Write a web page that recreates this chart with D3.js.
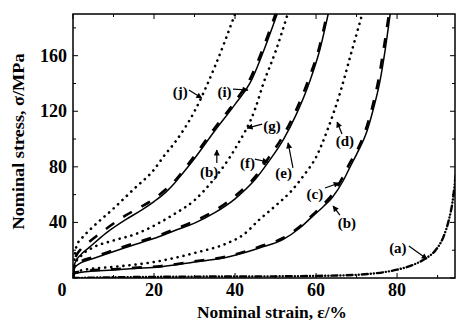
<!DOCTYPE html>
<html><head><meta charset="utf-8">
<script src="https://cdn.jsdelivr.net/npm/d3@7"></script>
<style>html,body{margin:0;padding:0;background:#fff;}svg{display:block;}</style>
</head><body>
<svg id="c" width="456" height="321"></svg>
<script>
// ---- data (strain %, stress MPa) ----
const curveA = [[0,0],[10,0.5],[30,1],[50,1.2],[60,1.5],[70,2.3],[75,3.5],[80,6],[84,9.5],[87,14],[89.5,20],[91.5,30],[92.8,42],[93.7,55],[94.5,75]];
const curveB = [[0,0],[0.3,3],[3,4.5],[10,5.8],[15,6.8],[21.5,8],[30,11.5],[38,15],[46,21.6],[52,28],[56,36],[59,44],[62,52],[64,58],[66.7,70],[68.4,80],[70,89],[72.6,106],[74,120],[75.8,142],[77,163],[78.3,190]];
const curveC = [[0,0],[0.3,3.5],[3,5],[10,6.3],[15,7.3],[21.5,8.5],[30,12],[38,15.5],[46,22.5],[52,29],[56,37],[59,45],[62,53.5],[64,60],[66.5,72],[68.2,82],[70,91],[72.4,108],[73.8,122],[75.5,144],[76.7,165],[78,190]];
const curveD = [[0,0],[0.5,4],[3,6],[10,8],[20,11.5],[30,18],[38,25],[42,31],[46,42],[50,52],[54,63],[57,74],[60,87],[63,108],[66,134],[68.5,160],[71.4,190]];
const curveE = [[0,0],[0.3,7],[2,11],[5,14],[13,22],[21.5,30],[25,34],[30,39.5],[35,47],[40,57],[45,71],[48.6,85],[52,100],[55,117],[58.5,142],[61,165],[63,190]];
const curveF = [[0,0],[0.3,8],[2,12],[5,15],[13,23],[21.5,31],[25,35],[30,41],[35,48.5],[40,59],[45,73],[48.4,87],[51.8,102],[54.8,119],[58.3,144],[60.8,166],[62.7,190]];
const curveG = [[0,0],[0.5,10],[2,16],[5,22],[10,27],[15.8,32],[21.5,40],[25,46],[30,56],[35,72],[40,93],[45,122],[47,140],[50,163],[53,190]];
const curveH = [[0,0],[0.5,11],[2,17],[4,22],[8,32],[13,42],[17,49],[20,55],[23,62],[25,68],[27,75],[30,86],[35,106],[40,125],[44,142],[47,163],[50.4,190]];
const curveI = [[0,0],[0.5,14],[2,21],[4,26],[8,35],[13,45],[17,51.5],[20,57],[23,64],[25,69.5],[27,76.5],[30,88],[35,108],[40,127],[44,145],[47,166],[50,190]];
const curveJ = [[0,0],[0.4,15],[1,24],[2,28],[5,37],[10,50],[15,64],[20,78],[22.5,88],[25,97],[30,120],[35,152],[40,190]];

const xTickLabels = [20, 40, 60, 80];
const yTickLabels = [40, 80, 120, 160];

// label text, text anchor (strain, stress), arrow from, arrow to
const labelNames = ["(j)","(i)","(g)","(b)","(f)","(e)","(d)","(c)","(b)","(a)"];
const labelAt   = [[26.5,130.3],[37.4,130.3],[49.1,105.8],[33.6,72.7],[43.1,79.2],[52.0,72.0],[67.1,95.0],[59.7,56.9],[67.6,36.0],[80.2,18.0]];
const arrowFrom = [[28.6,135.3],[39.5,136],[46.7,110.8],[35.5,82.8],[44.9,85.6],[54.3,79.2],[66.4,103.6],[62.2,64.8],[65.9,45.3],[82.9,23.0]];
const arrowTo   = [[31.8,129.5],[43.2,135.3],[43.0,107.9],[35.5,92.1],[48.1,83.5],[53.1,97.2],[65.2,112.3],[65.7,68.4],[64.2,51.8],[87.4,13.7]];

// ---- layout ----
const L = 73, R = 455, T = 14, B = 278;
const svg = d3.select("#c");
const x = d3.scaleLinear().domain([0, 94.3]).range([L, R]);
const y = d3.scaleLinear().domain([0, 190]).range([B, T]);
const FONT = "'Liberation Serif','Times New Roman',serif";

svg.append("clipPath").attr("id","clip").append("rect")
  .attr("x", L).attr("y", T).attr("width", R - L).attr("height", B - T);

const line = d3.line().x(d => x(d[0])).y(d => y(d[1])).curve(d3.curveMonotoneX);
const g = svg.append("g").attr("clip-path","url(#clip)");

function draw(data, width, dash, cap) {
  g.append("path").datum(data).attr("d", line)
    .attr("fill","none").attr("stroke","#000")
    .attr("stroke-width", width)
    .attr("stroke-dasharray", dash)
    .attr("stroke-linecap", cap || "butt")
    .attr("stroke-linejoin","round");
}
// solid
draw(curveB, 1.5, null);
draw(curveE, 1.5, null);
draw(curveH, 1.5, null);
// dashed
draw(curveC, 2.6, "10 11");
draw(curveF, 2.6, "10 11");
draw(curveI, 2.6, "10 11");
// dotted
draw(curveD, 2.6, "0.1 6", "round");
draw(curveG, 2.6, "0.1 6", "round");
draw(curveJ, 2.6, "0.1 6", "round");
// dash-dot-dot
draw(curveA, 2.4, "6 3 0.1 3 0.1 3", "round");

// ---- axes (ticks inside, mirrored) ----
const xMajor = d3.range(0, 95, 10);
const yMajor = d3.range(0, 191, 20);
const ax = svg.append("g").attr("stroke","#000");
xMajor.forEach(v => {
  const len = (v % 20 === 0) ? 5 : 3;
  ax.append("line").attr("x1", x(v)).attr("x2", x(v)).attr("y1", B).attr("y2", B - len).attr("stroke-width",1);
  ax.append("line").attr("x1", x(v)).attr("x2", x(v)).attr("y1", T).attr("y2", T + len).attr("stroke-width",1);
});
yMajor.forEach(v => {
  const len = (v % 40 === 0) ? 5 : 3;
  ax.append("line").attr("y1", y(v)).attr("y2", y(v)).attr("x1", L).attr("x2", L + len).attr("stroke-width",1);
  ax.append("line").attr("y1", y(v)).attr("y2", y(v)).attr("x1", R).attr("x2", R - len).attr("stroke-width",1);
});
svg.append("rect").attr("x", L).attr("y", T).attr("width", R - L).attr("height", B - T)
  .attr("fill","none").attr("stroke","#000").attr("stroke-width",1.5);

const txt = svg.append("g").attr("font-family", FONT).attr("font-weight","bold").attr("fill","#000");
xTickLabels.forEach(v => {
  txt.append("text").attr("x", x(v)).attr("y", 296).attr("text-anchor","middle")
    .attr("font-size", 18).text(v);
});
yTickLabels.forEach(v => {
  txt.append("text").attr("x", 67).attr("y", y(v) + 6).attr("text-anchor","end")
    .attr("font-size", 18).text(v);
});
txt.append("text").attr("x", 62).attr("y", 296).attr("text-anchor","middle").attr("font-size", 18).text("0");

txt.append("text").attr("x", 272).attr("y", 318).attr("text-anchor","middle")
  .attr("font-size", 17.5).attr("textLength", 150).attr("lengthAdjust","spacingAndGlyphs")
  .text("Nominal strain, \u03B5/%");
txt.append("text").attr("transform", "translate(24,141.5) rotate(-90)").attr("text-anchor","middle")
  .attr("font-size", 17.5).attr("textLength", 176).attr("lengthAdjust","spacingAndGlyphs")
  .text("Nominal stress, \u03C3/MPa");

// ---- annotations ----
svg.append("defs").append("marker").attr("id","ah")
  .attr("viewBox","0 0 10 10").attr("refX",9).attr("refY",5)
  .attr("markerWidth",7).attr("markerHeight",6).attr("orient","auto")
  .attr("markerUnits","userSpaceOnUse")
  .append("path").attr("d","M0,0 L10,5 L0,10 z").attr("fill","#000");

labelNames.forEach((t, i) => {
  txt.append("text").attr("x", x(labelAt[i][0])).attr("y", y(labelAt[i][1]))
    .attr("text-anchor","middle").attr("font-size", 15).text(t);
  svg.append("line")
    .attr("x1", x(arrowFrom[i][0])).attr("y1", y(arrowFrom[i][1]))
    .attr("x2", x(arrowTo[i][0])).attr("y2", y(arrowTo[i][1]))
    .attr("stroke","#000").attr("stroke-width",1.2).attr("marker-end","url(#ah)");
});
</script>
</body></html>
